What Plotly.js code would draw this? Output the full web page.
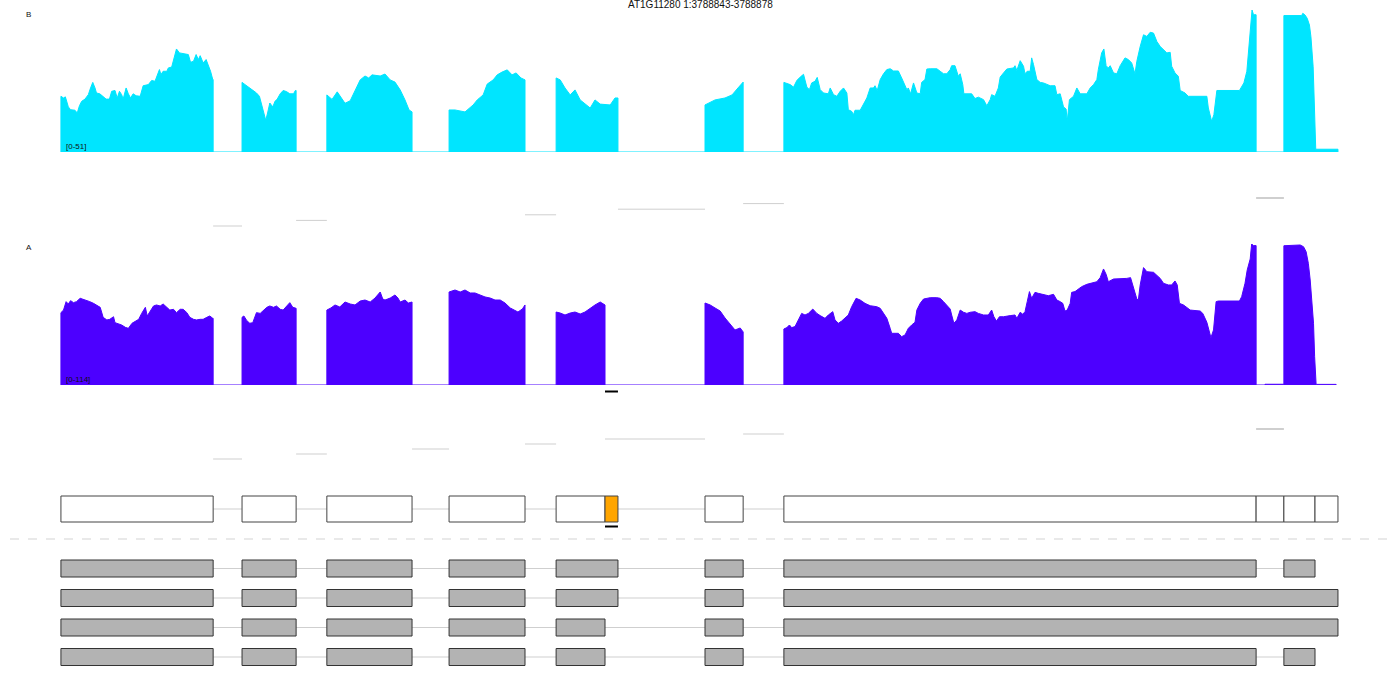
<!DOCTYPE html>
<html>
<head>
<meta charset="utf-8">
<script src="https://cdn.plot.ly/plotly-3.0.1.min.js"></script>
<style>html,body{margin:0;padding:0;background:#fff;}#chart{width:1400px;height:700px;}</style>
</head>
<body>
<div id="chart"></div>
<script>
// ---------------- DATA ----------------
const chartTitle = "AT1G11280 1:3788843-3788878";
const trackNames = ["B", "A"];
const trackRanges = [51, 114];
const eventRegion = [3788843, 3788878];
const geneSpan = [3787209.5, 3790989.5];

// coverage [position, reads]
const covB = [
[3787374,0],[3787374,20.0],[3787381,19.4],[3787386,19.8],[3787394,16.2],[3787400,15.2],[3787412,15.0],[3787418,14.0],[3787424,16.6],[3787430,18.2],[3787439,19.0],[3787448,20.6],[3787454,23.0],[3787460,25.0],[3787466,23.0],[3787470,21.2],[3787479,20.9],[3787488,20.0],[3787496,19.0],[3787505,19.0],[3787511,21.8],[3787520,22.1],[3787526,19.4],[3787532,21.8],[3787538,20.6],[3787542,19.0],[3787550,23.0],[3787556,20.9],[3787562,19.4],[3787569,20.9],[3787577,20.2],[3787588,20.0],[3787596,23.8],[3787610,24.2],[3787619,25.7],[3787628,25.4],[3787632,26.9],[3787640,29.6],[3787644,27.8],[3787650,29.0],[3787660,29.0],[3787664,30.2],[3787673,30.5],[3787678,33.4],[3787686,37.0],[3787694,35.6],[3787704,35.3],[3787718,35.0],[3787724,32.2],[3787732,32.6],[3787739,35.0],[3787745,33.2],[3787750,34.6],[3787758,32.0],[3787766,33.2],[3787772,31.4],[3787778,29.0],[3787784,26.0],[3787785,26.0],[3787785,0],
[3787863,0],[3787863,25.0],[3787871,24.2],[3787880,23.3],[3787889,22.6],[3787902,21.2],[3787910,20.0],[3787916,17.0],[3787922,14.0],[3787927,11.4],[3787932,14.0],[3787938,17.6],[3787946,16.2],[3787952,18.2],[3787958,19.0],[3787966,20.9],[3787974,22.1],[3787983,21.7],[3787992,20.9],[3788002,20.9],[3788007,22.1],[3788009,22.1],[3788009,0],
[3788092,0],[3788092,20.5],[3788106,18.9],[3788120,21.6],[3788133,19.0],[3788141,17.5],[3788155,18.4],[3788168,22.3],[3788182,25.9],[3788195,27.3],[3788205,26.6],[3788214,27.7],[3788236,27.3],[3788249,28.0],[3788263,25.9],[3788276,25.1],[3788290,22.3],[3788303,18.7],[3788314,15.1],[3788322,14.4],[3788322,0],
[3788422,0],[3788422,15.1],[3788438,15.1],[3788465,14.4],[3788487,16.9],[3788498,18.7],[3788514,20.5],[3788525,24.4],[3788541,25.9],[3788552,27.7],[3788565,28.7],[3788579,29.5],[3788592,27.7],[3788603,28.4],[3788616,26.6],[3788627,25.9],[3788627,0],
[3788711,0],[3788711,26.6],[3788722,25.9],[3788735,23.0],[3788749,20.5],[3788762,22.3],[3788776,18.7],[3788803,15.8],[3788816,18.7],[3788830,17.2],[3788857,16.9],[3788870,19.4],[3788878,19.4],[3788878,0],
[3789113,0],[3789113,16.9],[3789127,17.8],[3789140,18.7],[3789167,19.4],[3789186,20.5],[3789202,23.0],[3789216,25.1],[3789216,0],
[3789326,0],[3789326,25.0],[3789343,24.2],[3789352,23.3],[3789361,25.7],[3789370,26.9],[3789379,27.9],[3789388,23.3],[3789395,22.4],[3789401,24.8],[3789410,25.4],[3789416,26.8],[3789424,22.4],[3789433,21.2],[3789446,20.9],[3789451,23.0],[3789460,20.6],[3789469,20.0],[3789478,21.8],[3789487,23.0],[3789496,21.2],[3789500,15.2],[3789509,14.6],[3789514,13.4],[3789518,15.0],[3789532,15.0],[3789541,17.0],[3789550,19.4],[3789559,23.0],[3789568,23.0],[3789572,23.8],[3789578,22.1],[3789586,26.0],[3789595,28.1],[3789604,29.6],[3789613,29.9],[3789622,29.1],[3789635,29.1],[3789644,26.6],[3789653,24.2],[3789658,22.4],[3789662,23.0],[3789668,20.9],[3789676,24.8],[3789685,21.2],[3789694,20.9],[3789698,25.0],[3789707,26.0],[3789712,29.8],[3789721,29.9],[3789739,29.9],[3789748,29.0],[3789757,28.1],[3789766,28.1],[3789775,29.6],[3789779,31.0],[3789788,31.0],[3789797,27.2],[3789802,28.1],[3789809,24.2],[3789812,20.9],[3789833,20.9],[3789842,19.2],[3789851,19.7],[3789865,18.8],[3789874,16.6],[3789883,18.8],[3789887,20.6],[3789896,20.0],[3789905,23.0],[3789910,26.9],[3789919,28.4],[3789928,29.8],[3789946,30.2],[3789950,31.0],[3789955,29.3],[3789964,32.8],[3789973,30.8],[3789977,28.1],[3789983,29.0],[3789991,29.0],[3789995,33.8],[3790000,31.4],[3790009,26.0],[3790018,25.0],[3790027,24.8],[3790045,23.8],[3790058,23.8],[3790063,20.6],[3790072,20.9],[3790081,16.2],[3790088,15.4],[3790091,11.0],[3790097,18.8],[3790108,20.0],[3790117,23.0],[3790126,20.9],[3790144,20.9],[3790153,23.0],[3790162,24.2],[3790171,26.0],[3790175,29.6],[3790180,33.2],[3790184,35.6],[3790190,37.0],[3790196,31.0],[3790202,30.2],[3790207,31.0],[3790216,28.4],[3790225,28.1],[3790234,31.0],[3790247,33.8],[3790256,33.2],[3790265,32.0],[3790274,28.1],[3790279,32.6],[3790288,37.9],[3790297,42.1],[3790306,41.5],[3790315,43.0],[3790324,42.7],[3790333,39.7],[3790342,37.9],[3790351,36.7],[3790360,35.6],[3790369,35.8],[3790373,30.8],[3790382,28.4],[3790391,27.2],[3790396,22.1],[3790409,21.2],[3790418,20.0],[3790468,20.0],[3790472,15.8],[3790481,11.0],[3790487,13.4],[3790495,22.1],[3790556,22.1],[3790562,23.3],[3790568,24.8],[3790576,29.0],[3790582,37.9],[3790587,47.5],[3790590,51.0],[3790594,49.3],[3790601,49.3],[3790601,0],
[3790676,0],[3790676,49.0],[3790724,49.0],[3790727,49.8],[3790733,49.2],[3790739,48.0],[3790745,45.6],[3790749,41.4],[3790752,36.6],[3790755,30.6],[3790757,22.3],[3790759,15.1],[3790761,6.7],[3790762,1.0],[3790822,1.0],[3790822,0]
];

const covA = [
[3787374,0],[3787374,58.5],[3787381,60.6],[3787388,67.4],[3787394,65.5],[3787400,68.2],[3787408,66.6],[3787416,67.4],[3787426,70.1],[3787434,69.3],[3787444,68.7],[3787452,67.4],[3787462,66.0],[3787470,64.7],[3787480,62.8],[3787488,54.7],[3787498,52.6],[3787506,53.1],[3787516,55.2],[3787520,50.4],[3787530,49.3],[3787538,48.5],[3787548,46.6],[3787556,45.8],[3787566,49.9],[3787574,51.2],[3787584,53.1],[3787592,57.9],[3787602,62.8],[3787607,55.8],[3787614,59.3],[3787624,63.9],[3787632,64.7],[3787642,63.9],[3787650,65.5],[3787660,62.8],[3787668,60.6],[3787678,61.2],[3787686,58.5],[3787696,61.2],[3787704,61.2],[3787714,58.5],[3787722,54.7],[3787732,53.1],[3787740,52.6],[3787750,53.1],[3787758,53.1],[3787768,54.7],[3787776,55.8],[3787784,53.9],[3787785,53.9],[3787785,0],
[3787863,0],[3787863,54.7],[3787868,55.8],[3787876,52.0],[3787884,49.9],[3787892,50.4],[3787898,54.7],[3787902,58.5],[3787912,57.9],[3787920,60.1],[3787930,62.8],[3787938,63.9],[3787948,62.8],[3787956,63.9],[3787966,61.2],[3787974,60.6],[3787984,63.9],[3787992,66.6],[3788000,62.8],[3788007,62.0],[3788009,62.0],[3788009,0],
[3788092,0],[3788092,60.6],[3788103,62.3],[3788114,64.7],[3788127,63.1],[3788141,67.1],[3788155,65.5],[3788168,64.7],[3788182,67.9],[3788195,68.7],[3788209,67.1],[3788222,70.3],[3788236,75.2],[3788243,69.5],[3788249,68.7],[3788263,70.3],[3788276,72.8],[3788284,70.3],[3788290,67.1],[3788303,68.7],[3788312,66.3],[3788322,67.1],[3788322,0],
[3788422,0],[3788422,75.2],[3788438,76.8],[3788452,75.2],[3788465,76.8],[3788479,74.4],[3788492,74.4],[3788506,72.8],[3788519,71.2],[3788533,70.3],[3788546,68.7],[3788560,68.7],[3788573,66.3],[3788587,62.3],[3788608,59.0],[3788620,61.5],[3788627,64.7],[3788627,0],
[3788711,0],[3788711,59.0],[3788722,58.2],[3788735,56.6],[3788749,58.2],[3788762,59.0],[3788776,57.4],[3788789,59.0],[3788803,62.3],[3788816,64.7],[3788830,67.1],[3788843,64.7],[3788843,0],
[3789113,0],[3789113,66.3],[3789127,64.7],[3789140,62.3],[3789154,59.8],[3789167,54.2],[3789181,49.0],[3789194,44.5],[3789208,46.1],[3789216,42.9],[3789216,0],
[3789326,0],[3789326,45.3],[3789334,46.4],[3789341,48.5],[3789347,46.4],[3789356,47.2],[3789365,52.6],[3789374,57.9],[3789383,56.6],[3789392,57.9],[3789404,61.4],[3789415,57.9],[3789424,56.1],[3789437,53.9],[3789446,56.6],[3789458,59.3],[3789464,52.6],[3789473,49.9],[3789482,51.7],[3789491,53.9],[3789500,56.6],[3789509,63.3],[3789521,70.1],[3789532,68.7],[3789545,66.0],[3789559,64.1],[3789577,63.3],[3789586,62.0],[3789595,57.9],[3789604,53.9],[3789613,45.8],[3789617,41.8],[3789635,41.8],[3789644,39.1],[3789653,40.4],[3789662,45.8],[3789671,48.5],[3789680,50.7],[3789685,60.6],[3789694,66.0],[3789703,69.5],[3789721,70.6],[3789739,70.6],[3789748,70.1],[3789757,67.4],[3789766,64.7],[3789775,61.4],[3789779,56.6],[3789785,49.9],[3789793,52.6],[3789802,60.6],[3789811,58.8],[3789820,57.9],[3789829,58.8],[3789842,59.3],[3789851,57.9],[3789865,56.6],[3789878,56.6],[3789887,60.6],[3789893,55.2],[3789900,51.7],[3789908,55.2],[3789919,55.2],[3789937,56.1],[3789950,56.6],[3789955,53.9],[3789964,58.8],[3789971,57.2],[3789977,59.3],[3789983,67.4],[3789989,75.5],[3789995,70.1],[3790004,74.9],[3790013,74.1],[3790027,73.3],[3790040,72.2],[3790054,73.3],[3790063,68.7],[3790072,67.4],[3790079,66.0],[3790085,59.8],[3790091,60.6],[3790099,66.0],[3790103,74.9],[3790112,75.5],[3790121,77.6],[3790130,79.5],[3790144,81.4],[3790157,82.2],[3790171,83.5],[3790180,86.8],[3790189,93.8],[3790196,89.5],[3790202,83.5],[3790216,85.7],[3790234,85.7],[3790252,86.2],[3790262,86.8],[3790270,79.5],[3790279,69.5],[3790283,68.7],[3790288,80.9],[3790297,94.9],[3790306,91.6],[3790324,91.1],[3790333,88.9],[3790342,86.2],[3790351,82.2],[3790364,80.9],[3790373,80.9],[3790382,84.1],[3790388,80.9],[3790394,66.0],[3790405,64.7],[3790423,60.6],[3790450,59.8],[3790457,57.9],[3790468,50.7],[3790475,43.1],[3790479,38.3],[3790486,44.5],[3790493,67.4],[3790499,67.9],[3790556,67.9],[3790562,71.4],[3790571,82.2],[3790577,93.0],[3790585,101.9],[3790589,114.0],[3790594,112.7],[3790601,112.7],[3790601,0],
[3790625,0],[3790625,0.6],[3790676,0.6],[3790676,112.6],[3790720,113.2],[3790729,111.8],[3790736,107.8],[3790742,98.4],[3790747,84.9],[3790751,71.4],[3790756,49.9],[3790759,22.9],[3790762,2.7],[3790763,0.5],[3790817,0.5],[3790817,0]
];

// junctions [intron start, intron end]
const juncB = [[3787785,3787863],[3788009,3788092],[3788627,3788711],[3788878,3789113],[3789216,3789326],[3790601,3790676]];
const juncA = [[3787785,3787863],[3788009,3788092],[3788322,3788422],[3788627,3788711],[3788843,3789113],[3789216,3789326],[3790601,3790676]];

// gene model (collapsed) and transcripts
const modelExons = [[3787374,3787785],[3787863,3788009],[3788092,3788322],[3788422,3788627],[3788711,3788843],[3789113,3789216],[3789326,3790601],[3790601,3790676],[3790676,3790760],[3790760,3790822]];
const transcripts = [
  [[3787374,3787785],[3787863,3788009],[3788092,3788322],[3788422,3788627],[3788711,3788878],[3789113,3789216],[3789326,3790601],[3790676,3790760]],
  [[3787374,3787785],[3787863,3788009],[3788092,3788322],[3788422,3788627],[3788711,3788878],[3789113,3789216],[3789326,3790822]],
  [[3787374,3787785],[3787863,3788009],[3788092,3788322],[3788422,3788627],[3788711,3788843],[3789113,3789216],[3789326,3790822]],
  [[3787374,3787785],[3787863,3788009],[3788092,3788322],[3788422,3788627],[3788711,3788843],[3789113,3789216],[3789326,3790601],[3790676,3790760]]
];

// ---------------- LAYOUT / STYLE ----------------
const W = 1400, H = 700;
const P = p => 1 - p / H;           // pixel row -> paper y
const FONT = "Liberation Sans, Arial, Helvetica, sans-serif";
const colB = "#00e5ff", colA = "#4c00ff";
const juncColor = "#cfcfcf";

const traces = [
  {x: covB.map(d => d[0]), y: covB.map(d => d[1]), type: "scatter", mode: "lines",
   fill: "tozeroy", fillcolor: colB, line: {color: colB, width: 1}, xaxis: "x", yaxis: "y", hoverinfo: "skip"},
  {x: covA.map(d => d[0]), y: covA.map(d => d[1]), type: "scatter", mode: "lines",
   fill: "tozeroy", fillcolor: colA, line: {color: colA, width: 1}, xaxis: "x", yaxis: "y2", hoverinfo: "skip"}
];

const shapes = [];
function hline(x0, x1, yp, color, width, dash) {
  shapes.push({type: "line", xref: "x", yref: "paper", x0: x0, x1: x1, y0: P(yp), y1: P(yp),
               line: {color: color, width: width, dash: dash || "solid"}, layer: "above"});
}
function box(x0, x1, top, bot, fill, lineColor) {
  shapes.push({type: "rect", xref: "x", yref: "paper", x0: x0, x1: x1, y0: P(bot), y1: P(top),
               fillcolor: fill, line: {color: lineColor, width: 1}, layer: "above"});
}

// junction bars
juncB.forEach((j, i) => hline(j[0], j[1], 226 - 5.6 * i, juncColor, i === juncB.length - 1 ? 2 : 1));
juncA.forEach((j, i) => hline(j[0], j[1], 459 - 5 * i, juncColor, i === juncA.length - 1 ? 2 : 1));

// event markers
hline(eventRegion[0], eventRegion[1], 391.5, "#000", 2);
hline(eventRegion[0], eventRegion[1], 526.5, "#000", 2);

// collapsed model introns
for (let i = 0; i < modelExons.length - 1; i++) {
  const a = (modelExons[i][1] === eventRegion[0]) ? eventRegion[1] : modelExons[i][1];
  if (modelExons[i + 1][0] > a) hline(a, modelExons[i + 1][0], 509, juncColor, 1);
}
modelExons.forEach(e => box(e[0], e[1], 496, 522, "#ffffff", "#444"));
box(eventRegion[0], eventRegion[1], 496, 522, "#ffa500", "#444");

// separator
shapes.push({type: "line", xref: "paper", yref: "paper", x0: 10 / W, x1: 1388 / W, y0: P(539), y1: P(539),
             line: {color: "#d3d3d3", width: 1, dash: "dash"}});

// transcripts
const rowCenters = [568.5, 598, 627.5, 657];
transcripts.forEach((t, r) => {
  const c = rowCenters[r];
  for (let i = 0; i < t.length - 1; i++) hline(t[i][1], t[i + 1][0], c, juncColor, 1);
  t.forEach(e => box(e[0], e[1], c - 8.5, c + 8.5, "#b3b3b3", "#333"));
});

function txt(text, xpx, ypx, size, anchor) {
  return {text: text, xref: "paper", yref: "paper", x: xpx / W, y: P(ypx), showarrow: false,
          xanchor: anchor || "left", yanchor: "middle", font: {family: FONT, size: size, color: "#111"}};
}
const annotations = [
  txt(chartTitle, 700, 5, 10, "center"),
  txt(trackNames[0], 24, 14, 8),
  txt("[0-" + trackRanges[0] + "]", 64, 147, 8),
  txt(trackNames[1], 24, 247, 8),
  txt("[0-" + trackRanges[1] + "]", 64, 380, 8)
];

const hidden = {visible: false, showgrid: false, zeroline: false, fixedrange: true};
const layout = {
  width: W, height: H, margin: {l: 0, r: 0, t: 0, b: 0},
  paper_bgcolor: "#fff", plot_bgcolor: "rgba(0,0,0,0)", showlegend: false,
  xaxis: Object.assign({range: geneSpan}, hidden),
  yaxis: Object.assign({range: [0, trackRanges[0]], domain: [P(152), P(10)]}, hidden),
  yaxis2: Object.assign({range: [0, trackRanges[1]], domain: [P(385), P(244)]}, hidden),
  shapes: shapes, annotations: annotations
};
Plotly.newPlot("chart", traces, layout, {displayModeBar: false, staticPlot: true});
</script>
</body>
</html>
